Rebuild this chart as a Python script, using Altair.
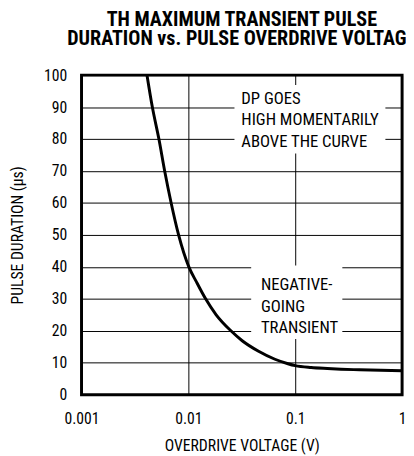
import altair as alt
import pandas as pd

# Curve
volt = [0.0041, 0.0046, 0.0053, 0.0060, 0.0069, 0.0081, 0.0101, 0.0119, 0.0145, 0.0182, 0.0250,
        0.0319, 0.0454, 0.0646, 0.0855, 0.100, 0.141, 0.200, 0.268, 0.400, 1.0]
dur = [100, 90, 80, 70, 60, 50, 40, 35.3, 30, 25, 20, 16.9, 13.6, 11.1, 9.7, 9.1, 8.5, 8.2, 8.0,
       7.8, 7.5]

x_ticks = [0.001, 0.01, 0.1, 1]
y_ticks = [0, 10, 20, 30, 40, 50, 60, 70, 80, 90, 100]

# annotation backgrounds (data space)
box_x1 = [0.027, 0.0387]
box_x2 = [0.698, 0.276]
box_y1 = [96.9, 40.4]
box_y2 = [75.5, 17.4]

note_x = [0.0313, 0.0477]
note_y = [91.1, 32.7]
note_text = [["DP GOES", "HIGH MOMENTARILY", "ABOVE THE CURVE"], ["NEGATIVE-", "GOING", "TRANSIENT"]]

FONT = "Roboto Condensed"

curve = pd.DataFrame({"v": volt, "d": dur})
boxes = pd.DataFrame({"x1": box_x1, "x2": box_x2, "y1": box_y1, "y2": box_y2})
notes = pd.DataFrame({"x": note_x, "y": note_y, "t": note_text})

xs = alt.Scale(type="log", domain=[0.001, 1])
ys = alt.Scale(domain=[0, 100], nice=False, zero=False)

xaxis = alt.Axis(values=x_ticks, format="~g", title="OVERDRIVE VOLTAGE (V)", tickSize=0,
                 labelPadding=16, titlePadding=12, labelFlush=False, grid=True,
                 gridColor="black", gridWidth=1, gridOpacity=1, domain=False)
yaxis = alt.Axis(values=y_ticks, title="PULSE DURATION (µs)", tickSize=0, labelPadding=15,
                 titlePadding=18, labelFlush=False, grid=True, gridColor="black",
                 gridWidth=1, gridOpacity=1, domain=False)

rects = alt.Chart(boxes).mark_rect(color="white", opacity=1).encode(
    x=alt.X("x1:Q", scale=xs, axis=xaxis), x2="x2:Q",
    y=alt.Y("y1:Q", scale=ys, axis=yaxis), y2="y2:Q",
)

line = alt.Chart(curve).mark_line(color="black", strokeWidth=3, clip=True,
                                  interpolate="monotone").encode(
    x=alt.X("v:Q", scale=xs, axis=xaxis),
    y=alt.Y("d:Q", scale=ys, axis=yaxis),
)

texts = alt.Chart(notes).mark_text(align="left", baseline="alphabetic", fontSize=17,
                                   lineHeight=22, font=FONT, color="black").encode(
    x=alt.X("x:Q", scale=xs, axis=xaxis), y=alt.Y("y:Q", scale=ys, axis=yaxis), text="t"
)

chart = alt.layer(rects, line, texts).properties(
    width=327, height=326,
    autosize=alt.AutoSizeParams(type="none"),
    padding={"left": 75, "top": 64, "right": 4, "bottom": 58},
    title=alt.TitleParams(
        text=["TH MAXIMUM TRANSIENT PULSE", "DURATION vs. PULSE OVERDRIVE VOLTAGE"],
        font=FONT, fontSize=20.5, fontWeight="bold", lineHeight=20, anchor="middle",
        offset=18, color="black",
    ),
).configure_view(stroke="black", strokeWidth=3).configure_axis(
    labelFont=FONT, titleFont=FONT, labelFontSize=16, titleFontSize=16,
    labelColor="black", titleColor="black", titleFontWeight="normal",
)

chart.save("out.html", embed_options={"renderer": "svg", "actions": False})
